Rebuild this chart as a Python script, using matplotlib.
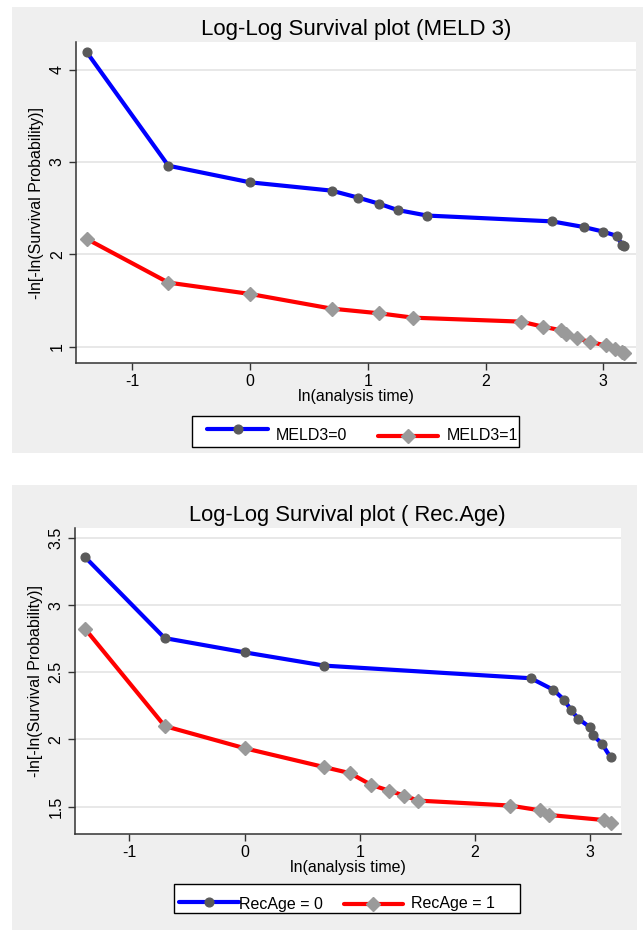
import matplotlib
matplotlib.use("Agg")
import matplotlib.pyplot as plt
from matplotlib.patches import Rectangle
from matplotlib.lines import Line2D

plt.rcParams['font.family'] = ['Liberation Sans', 'DejaVu Sans']

# ---------------- data ----------------
meld_x0 = [-1.386, -0.693, 0.0, 0.693, 0.916, 1.099, 1.253, 1.504, 2.565, 2.833, 2.996, 3.113, 3.16, 3.178]
meld_y0 = [4.19, 2.96, 2.78, 2.69, 2.615, 2.547, 2.48, 2.42, 2.357, 2.296, 2.247, 2.20, 2.10, 2.095]
meld_x1 = [-1.386, -0.693, 0.0, 0.693, 1.099, 1.386, 2.303, 2.485, 2.639, 2.68, 2.773, 2.89, 3.02, 3.10, 3.16, 3.178]
meld_y1 = [2.167, 1.694, 1.571, 1.412, 1.361, 1.314, 1.271, 1.217, 1.178, 1.14, 1.09, 1.05, 1.013, 0.973, 0.94, 0.935]

rec_x0 = [-1.386, -0.693, 0.0, 0.693, 2.485, 2.68, 2.773, 2.833, 2.896, 3.0, 3.026, 3.10, 3.178]
rec_y0 = [3.36, 2.755, 2.649, 2.55, 2.456, 2.37, 2.296, 2.22, 2.155, 2.09, 2.03, 1.97, 1.866]
rec_x1 = [-1.386, -0.693, 0.0, 0.693, 0.916, 1.099, 1.253, 1.386, 1.504, 2.303, 2.565, 2.639, 3.12, 3.178]
rec_y1 = [2.826, 2.10, 1.935, 1.794, 1.749, 1.662, 1.619, 1.582, 1.545, 1.508, 1.472, 1.438, 1.40, 1.375]

x_ticks = [-1, 0, 1, 2, 3]
x_ticklabels = ["-1", "0", "1", "2", "3"]
top_yticks = [1, 2, 3, 4]
top_yticklabels = ["1", "2", "3", "4"]
bot_yticks = [1.5, 2, 2.5, 3, 3.5]
bot_yticklabels = ["1.5", "2", "2.5", "3", "3.5"]

titles = ["Log-Log Survival plot (MELD 3)", "Log-Log Survival plot ( Rec.Age)"]
legend_top = ["MELD3=0", "MELD3=1"]
legend_bot = ["RecAge = 0", "RecAge = 1"]
xlabel = "ln(analysis time)"
ylabel = "-ln[-ln(Survival Probability)]"

# ---------------- figure ----------------
W, H = 643, 930
fig = plt.figure(figsize=(W / 100, H / 100), dpi=100)
fig.patch.set_facecolor("white")

def fx(px):
    return px / W

def fy(py):
    return 1 - py / H

BG = "#efefef"
for (l, t, r, b) in [(12, 7, 643, 453), (12, 485, 637, 930)]:
    rect = Rectangle((fx(l), fy(b)), fx(r) - fx(l), fy(t) - fy(b),
                     transform=fig.transFigure, facecolor=BG, edgecolor="none", zorder=-10)
    fig.add_artist(rect)

BLUE = "#0000ff"
RED = "#ff0000"
CIRC = "#5a5a5a"
DIAM = "#9a9a9a"
AXC = "#333333"
STY0 = dict(color=BLUE, lw=3, marker="o", ms=6.3, mfc=CIRC, mec=CIRC)
STY1 = dict(color=RED, lw=3, marker="D", ms=7.0, mfc=DIAM, mec=DIAM)
FS = 11.5


def style_axes(ax, xlim, ylim, yticks, yticklabels, title, tfs):
    ax.set_facecolor("white")
    ax.set_xlim(*xlim)
    ax.set_ylim(*ylim)
    ax.set_xticks(x_ticks)
    ax.set_xticklabels(x_ticklabels, fontsize=FS)
    ax.set_yticks(yticks)
    ax.set_yticklabels(yticklabels, fontsize=FS, rotation=90, va="center")
    for s in ["top", "right"]:
        ax.spines[s].set_visible(False)
    for s in ["left", "bottom"]:
        ax.spines[s].set_color(AXC)
        ax.spines[s].set_linewidth(1.1)
    ax.tick_params(axis="both", colors=AXC, length=5, width=1.0, labelcolor="black", pad=3)
    ax.yaxis.grid(True, color="#e4e4e4", linewidth=1.2)
    ax.set_axisbelow(True)
    ax.set_xlabel(xlabel, fontsize=FS, labelpad=0)
    ax.set_ylabel(ylabel, fontsize=FS, labelpad=4)
    ax.set_title(title, fontsize=tfs, pad=5)


def draw(ax, x0, y0, x1, y1):
    ax.plot(x0, y0, zorder=3, **STY0)
    ax.plot(x1, y1, zorder=3, **STY1)


# top panel
ax1 = fig.add_axes([fx(76), fy(363), fx(636) - fx(76), fy(42) - fy(363)])
draw(ax1, meld_x0, meld_y0, meld_x1, meld_y1)
style_axes(ax1, (-1.477, 3.277), (0.823, 4.30), top_yticks, top_yticklabels, titles[0], 16)

# bottom panel
ax2 = fig.add_axes([fx(74.6), fy(834), fx(620.5) - fx(74.6), fy(528) - fy(834)])
draw(ax2, rec_x0, rec_y0, rec_x1, rec_y1)
style_axes(ax2, (-1.475, 3.263), (1.296, 3.575), bot_yticks, bot_yticklabels, titles[1], 15.8)


def manual_legend(box, entries):
    l, t, r, b = box
    fig.add_artist(Rectangle((fx(l), fy(b)), fx(r) - fx(l), fy(t) - fy(b),
                             transform=fig.transFigure, facecolor="white",
                             edgecolor="black", lw=1.0, zorder=5))
    for (x0, x1, yl, xm, tx, ty, label, sty) in entries:
        line_sty = {k: v for k, v in sty.items() if k in ("color", "lw")}
        fig.add_artist(Line2D([fx(x0), fx(x1)], [fy(yl), fy(yl)], transform=fig.transFigure,
                              zorder=6, solid_capstyle="round", **line_sty))
        fig.add_artist(Line2D([fx(xm)], [fy(yl)], transform=fig.transFigure, zorder=7,
                              ls="none", marker=sty["marker"], ms=sty["ms"],
                              mfc=sty["mfc"], mec=sty["mec"]))
        fig.text(fx(tx), fy(ty), label, fontsize=FS, ha="left", va="center", zorder=8)


manual_legend((192, 416, 519, 447), [
    (207, 268, 429, 238, 276, 436, legend_top[0], STY0),
    (378, 438, 436.5, 408, 447, 435.5, legend_top[1], STY1),
])
manual_legend((174, 884, 520, 913), [
    (179, 239, 902, 209, 239, 904.5, legend_bot[0], STY0),
    (344, 403, 904, 373, 411, 903, legend_bot[1], STY1),
])

fig.savefig("out.png", dpi=100, facecolor="white")
